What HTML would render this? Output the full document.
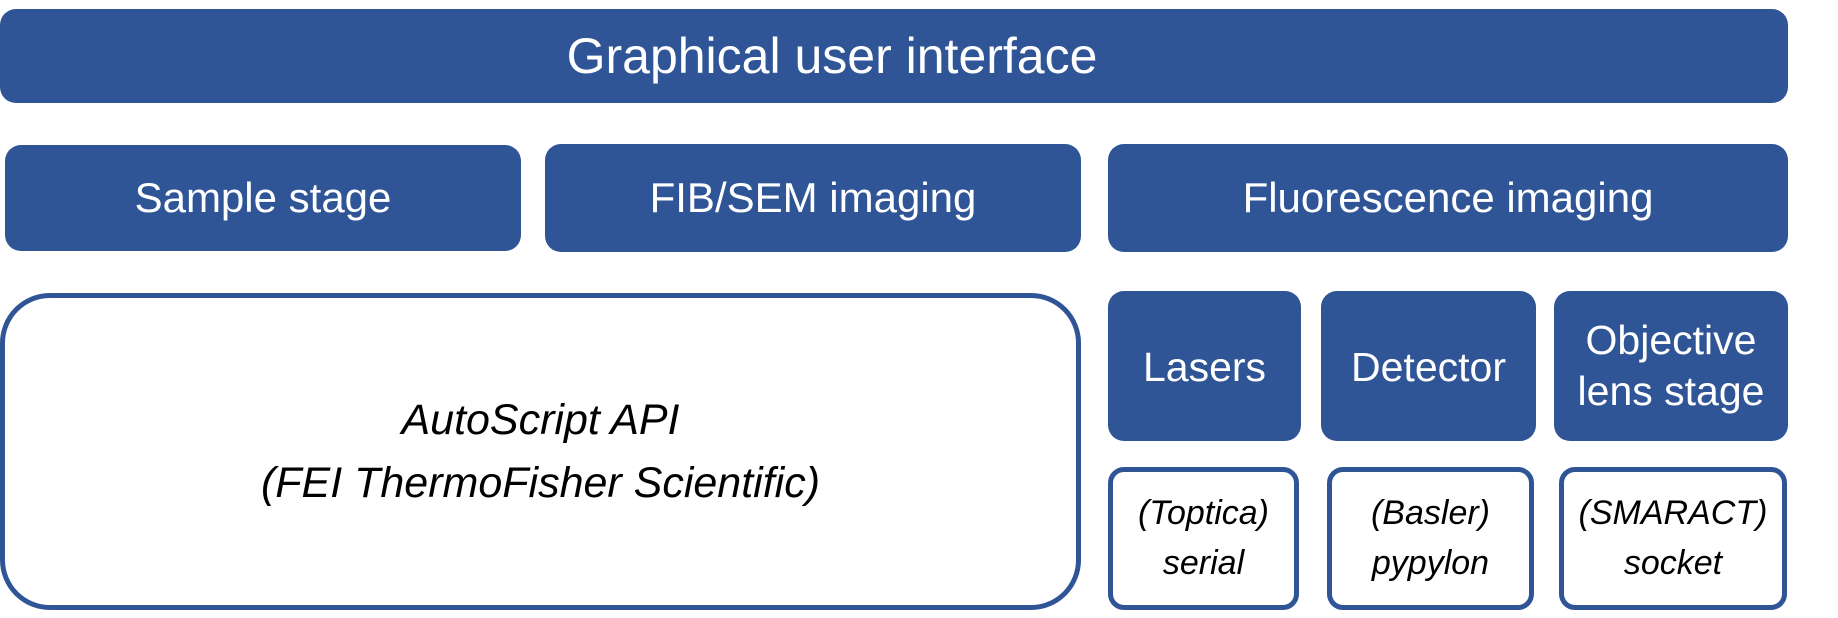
<!DOCTYPE html>
<html><head><style>
body{margin:0;width:1838px;height:618px;background:#fff;position:relative;overflow:hidden;font-family:"Liberation Sans",sans-serif}
.b{position:absolute;box-sizing:border-box;background:#2F5597;color:#fff;border-radius:16px;display:flex;align-items:center;justify-content:center;text-align:center;line-height:1.2;white-space:nowrap}
.w{background:#fff;color:#000;border:5px solid #2F5597;font-style:italic}
</style></head><body>
<div class="b" style="left:0;top:9px;width:1788px;height:94px;font-size:50px"><span style="position:relative;left:-62px">Graphical user interface</span></div>
<div class="b" style="left:5px;top:145px;width:516px;height:106px;font-size:42px">Sample stage</div>
<div class="b" style="left:545px;top:144px;width:536px;height:108px;font-size:42px">FIB/SEM imaging</div>
<div class="b" style="left:1108px;top:144px;width:680px;height:108px;font-size:42px">Fluorescence imaging</div>
<div class="b w" style="left:0;top:293px;width:1081px;height:317px;border-radius:50px;font-size:43px;line-height:1.45">AutoScript API<br>(FEI ThermoFisher Scientific)</div>
<div class="b" style="left:1108px;top:291px;width:193px;height:150px;font-size:41px;padding-top:4px">Lasers</div>
<div class="b" style="left:1321px;top:291px;width:215px;height:150px;font-size:41px;padding-top:4px">Detector</div>
<div class="b" style="left:1554px;top:291px;width:234px;height:150px;font-size:41px;line-height:1.25">Objective<br>lens stage</div>
<div class="b w" style="left:1108px;top:467px;width:191px;height:143px;font-size:34px;line-height:1.45">(Toptica)<br>serial</div>
<div class="b w" style="left:1327px;top:467px;width:207px;height:143px;font-size:34px;line-height:1.45">(Basler)<br>pypylon</div>
<div class="b w" style="left:1559px;top:467px;width:228px;height:143px;font-size:34px;line-height:1.45">(SMARACT)<br>socket</div>
</body></html>
